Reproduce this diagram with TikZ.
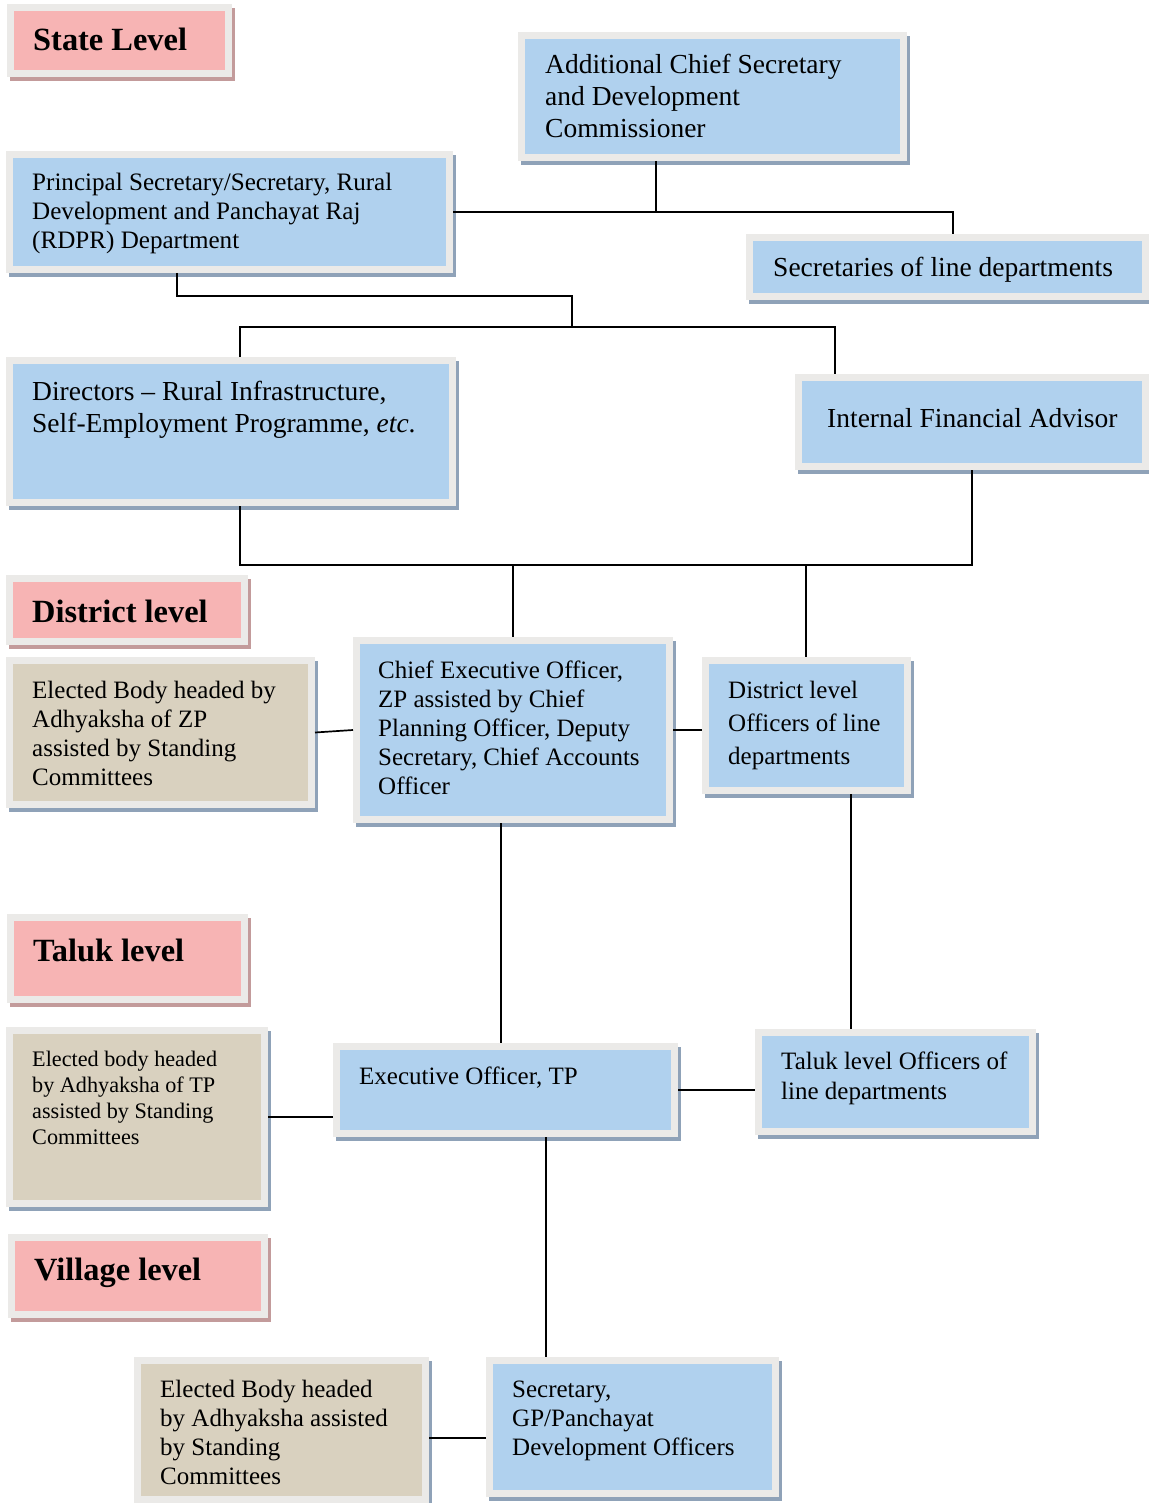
\documentclass[tikz,border=0pt]{standalone}
\usepackage{fontspec}
\setmainfont{Liberation Serif}
\usetikzlibrary{shadows}
\definecolor{framegray}{HTML}{EBEAE8}
\definecolor{bluefill}{HTML}{B0D1EE}
\definecolor{pinkfill}{HTML}{F7B4B4}
\definecolor{tanfill}{HTML}{D9D1BF}
\definecolor{shadowblue}{HTML}{8FA2B8}
\definecolor{shadowpink}{HTML}{C39B9B}
\newcommand{\btext}[3]{\parbox[t]{700pt}{\fontsize{#1}{#2}\selectfont #3}}
\newcommand{\mkbox}[6]{\node[#1, minimum width={(#5-#3)*1pt}, minimum height={(#6-#4)*1pt}] (#2) at (#3,#4) {};}
\tikzset{
  orgbox/.style n args={2}{rectangle, anchor=north west, inner sep=0pt, outer sep=0pt, fill=framegray,
    drop shadow={shadow xshift=3pt, shadow yshift=-4pt, fill=#2, opacity=1},
    path picture={\fill[#1] ([shift={(7pt,-7pt)}]path picture bounding box.north west) rectangle ([shift={(-7pt,7pt)}]path picture bounding box.south east);}},
  bluebox/.style={orgbox={bluefill}{shadowblue}},
  pinkbox/.style={orgbox={pinkfill}{shadowpink}},
  tanbox/.style={orgbox={tanfill}{shadowblue}},
  conn/.style={draw=black, line width=1.7pt},
  txt/.style={anchor=base west, inner sep=0pt, text=black},
}
\begin{document}
\begin{tikzpicture}[x=1pt, y=-1pt]
\useasboundingbox (0,0) rectangle (1148,1503);
\fill[white] (0,0) rectangle (1148,1503);

% boxes: style, name, x1, y1, x2, y2
\mkbox{pinkbox}{state}{7}{4}{232}{77}
\mkbox{bluebox}{acs}{518}{32}{907}{161}
\mkbox{bluebox}{ps}{6}{151}{453}{273}
\mkbox{bluebox}{sld}{746}{234}{1149}{300}
\mkbox{bluebox}{dir}{6}{357}{456}{506}
\mkbox{bluebox}{ifa}{795}{374}{1149}{470}
\mkbox{pinkbox}{district}{6}{575}{248}{645}
\mkbox{tanbox}{ezp}{6}{657}{315}{808}
\mkbox{bluebox}{ceo}{353}{637}{673}{823}
\mkbox{bluebox}{dlo}{702}{657}{911}{794}
\mkbox{pinkbox}{taluk}{7}{914}{248}{1003}
\mkbox{tanbox}{etp}{6}{1027}{268}{1207}
\mkbox{bluebox}{eo}{333}{1043}{678}{1137}
\mkbox{bluebox}{tlo}{755}{1029}{1036}{1135}
\mkbox{pinkbox}{village}{8}{1234}{268}{1318}
\mkbox{tanbox}{egp}{134}{1357}{429}{1503}
\mkbox{bluebox}{sec}{486}{1357}{779}{1497}

% texts
\node[txt] (state-t) at (33,51) {\btext{32.4}{38}{\bfseries State Level}};
\node[txt] (acs-t) at (545,74) {\btext{27.5}{32}{Additional Chief Secretary\\and Development\\Commissioner}};
\node[txt] (ps-t) at (32,191) {\btext{25.1}{29}{Principal Secretary/Secretary, Rural\\Development and Panchayat Raj\\(RDPR) Department}};
\node[txt] (sld-t) at (773,277) {\btext{27.5}{32}{Secretaries of line departments}};
\node[txt] (dir-t) at (32,400) {\btext{27.5}{32}{Directors -- Rural Infrastructure,\\Self-Employment Programme, \textit{etc}.}};
\node[txt] (ifa-t) at (827,427) {\btext{27.5}{32}{Internal Financial Advisor}};
\node[txt] (district-t) at (32,622) {\btext{32.4}{38}{\bfseries District level}};
\node[txt] (ezp-t) at (32,698) {\btext{25}{29}{Elected Body headed by\\Adhyaksha of ZP\\assisted by Standing\\Committees}};
\node[txt] (ceo-t) at (378,678) {\btext{25}{29}{Chief Executive Officer,\\ZP assisted by Chief\\Planning Officer, Deputy\\Secretary, Chief Accounts\\Officer}};
\node[txt] (dlo-t) at (728,698) {\btext{25}{33}{District level\\Officers of line\\departments}};
\node[txt] (taluk-t) at (33,961) {\btext{32.4}{38}{\bfseries Taluk level}};
\node[txt] (etp-t) at (32,1066) {\btext{22.2}{26}{Elected body headed\\by Adhyaksha of TP\\assisted by Standing\\Committees}};
\node[txt] (eo-t) at (359,1084) {\btext{25}{29}{Executive Officer, TP}};
\node[txt] (tlo-t) at (781,1069) {\btext{25}{30}{Taluk level Officers of\\line departments}};
\node[txt] (village-t) at (34,1280) {\btext{32.4}{38}{\bfseries Village level}};
\node[txt] (egp-t) at (160,1397) {\btext{25}{29}{Elected Body headed\\by Adhyaksha assisted\\by Standing\\Committees}};
\node[txt] (sec-t) at (512,1397) {\btext{25}{29}{Secretary,\\GP/Panchayat\\Development Officers}};

% junction coordinates
\coordinate (jA) at (656,212);
\coordinate (jB) at (953,212);
\coordinate (jC) at (177,296);
\coordinate (jD) at (572,296);
\coordinate (jE) at (572,327);
\coordinate (jF) at (240,327);
\coordinate (jG) at (835,327);
\coordinate (jH) at (240,565);
\coordinate (jI) at (972,565);
\coordinate (jJ) at (513,565);
\coordinate (jK) at (806,565);
\coordinate (jL) at (501,0);
\coordinate (jM) at (851,0);
\coordinate (jN) at (546,0);

% connectors
\draw[conn] (acs.south -| jA) -- (jA);
\draw[conn] (ps.east) -- (jB) -- (sld.north -| jB);
\draw[conn] (ps.south -| jC) -- (jC) -- (jD) -- (jE);
\draw[conn] (dir.north -| jF) -- (jF) -- (jG) -- (ifa.north -| jG);
\draw[conn] (dir.south -| jH) -- (jH) -- (jI) -- (ifa.south -| jI);
\draw[conn] (jJ) -- (ceo.north -| jJ);
\draw[conn] (jK) -- (dlo.north -| jK);
\draw[conn] (ezp.east) -- (ceo.west);
\draw[conn] (ceo.east) -- (ceo.east -| dlo.west);
\draw[conn] (ceo.south -| jL) -- (eo.north -| jL);
\draw[conn] (dlo.south -| jM) -- (tlo.north -| jM);
\draw[conn] (etp.east) -- (etp.east -| eo.west);
\draw[conn] (eo.east) -- (eo.east -| tlo.west);
\draw[conn] (eo.south -| jN) -- (sec.north -| jN);
\draw[conn] ([yshift=-8pt]egp.east) -- ([yshift=-8pt]egp.east -| sec.west);
\end{tikzpicture}
\end{document}
